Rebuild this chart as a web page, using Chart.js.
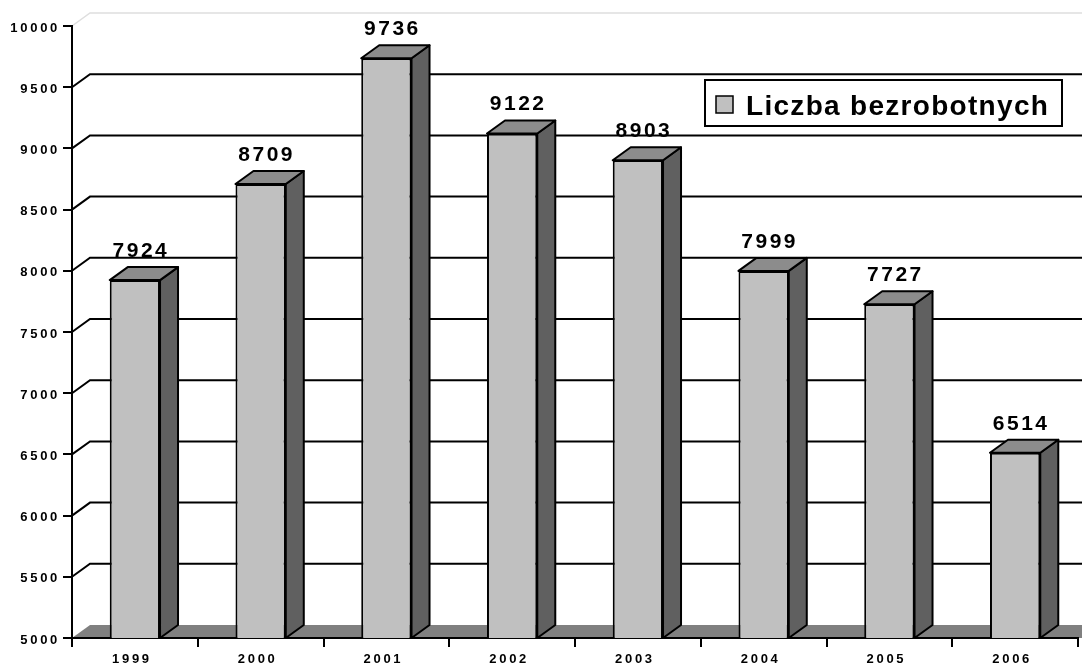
<!DOCTYPE html>
<html>
<head>
<meta charset="utf-8">
<script src="https://cdn.jsdelivr.net/npm/chart.js@4"></script>
<style>
  html, body { margin: 0; padding: 0; background: #fff; }
</style>
</head>
<body>
<canvas id="chart" width="1082" height="668"></canvas>
<script>
// dane
const categories = ['1999', '2000', '2001', '2002', '2003', '2004', '2005', '2006'];
const values = [7924, 8709, 9736, 9122, 8903, 7999, 7727, 6514];
const yTickValues = [5000, 5500, 6000, 6500, 7000, 7500, 8000, 8500, 9000, 9500, 10000];
const seriesLabel = 'Liczba bezrobotnych';

// przesunięcie "głębi" 3D
const DX = 18, DY = 13;
const FONT = 'Arial, "Liberation Sans", sans-serif';

// --- ściana tylna, podłoga i linie siatki ---
const wallPlugin = {
  id: 'wall3d',
  beforeDraw(chart) {
    const ctx = chart.ctx;
    const y = chart.scales.y;
    const area = chart.chartArea;
    const W = chart.width;
    ctx.save();
    // podłoga
    ctx.fillStyle = '#808080';
    ctx.beginPath();
    ctx.moveTo(area.left, area.bottom);
    ctx.lineTo(area.left + DX, area.bottom - DY);
    ctx.lineTo(W, area.bottom - DY);
    ctx.lineTo(W, area.bottom);
    ctx.closePath();
    ctx.fill();
    // siatka
    y.ticks.forEach(t => {
      if (t.value === y.min) return;
      const py = y.getPixelForValue(t.value);
      const isTop = t.value === y.max;
      ctx.strokeStyle = isTop ? '#dedede' : '#000';
      ctx.lineWidth = isTop ? 1.5 : 2;
      ctx.beginPath();
      ctx.moveTo(area.left, py);
      ctx.lineTo(area.left + DX, py - DY);
      ctx.lineTo(W, py - DY);
      ctx.stroke();
    });
    ctx.restore();
    // odstępy między literami dla etykiet osi
    ctx.letterSpacing = '2.7px';
  },
  afterDatasetsDraw(chart) {
    const ctx = chart.ctx;
    const meta = chart.getDatasetMeta(0);
    const bottom = chart.chartArea.bottom;
    ctx.save();
    ctx.lineWidth = 2;
    ctx.lineJoin = 'round';
    ctx.strokeStyle = '#000';
    meta.data.forEach((bar, i) => {
      const { x, y, width } = bar.getProps(['x', 'y', 'width'], true);
      const l = x - width / 2, r = x + width / 2;
      // bok
      ctx.fillStyle = '#606060';
      ctx.beginPath();
      ctx.moveTo(r, y);
      ctx.lineTo(r + DX, y - DY);
      ctx.lineTo(r + DX, bottom - DY);
      ctx.lineTo(r, bottom);
      ctx.closePath();
      ctx.fill();
      ctx.stroke();
      // góra
      ctx.fillStyle = '#8c8c8c';
      ctx.beginPath();
      ctx.moveTo(l, y);
      ctx.lineTo(l + DX, y - DY);
      ctx.lineTo(r + DX, y - DY);
      ctx.lineTo(r, y);
      ctx.closePath();
      ctx.fill();
      ctx.stroke();
      // etykieta wartości
      ctx.fillStyle = '#000';
      ctx.font = 'bold 21px ' + FONT;
      ctx.letterSpacing = '2.5px';
      ctx.textAlign = 'center';
      ctx.textBaseline = 'alphabetic';
      ctx.fillText(String(values[i]), x + 6, y - 23);
    });
    ctx.restore();
  },
  afterDraw(chart) {
    // legenda
    const ctx = chart.ctx;
    ctx.save();
    ctx.fillStyle = '#fff';
    ctx.fillRect(705, 80, 357, 46);
    ctx.strokeStyle = '#000';
    ctx.lineWidth = 2;
    ctx.strokeRect(705, 80, 357, 46);
    ctx.fillStyle = chart.data.datasets[0].backgroundColor;
    ctx.fillRect(716, 96, 17, 17);
    ctx.lineWidth = 1.5;
    ctx.strokeRect(716, 96, 17, 17);
    ctx.fillStyle = '#000';
    ctx.font = 'bold 28px ' + FONT;
    ctx.letterSpacing = '1.3px';
    ctx.textAlign = 'left';
    ctx.textBaseline = 'alphabetic';
    ctx.fillText(chart.data.datasets[0].label, 746, 115);
    ctx.restore();
  }
};

const tickFont = { family: FONT, size: 13, weight: 'bold' };

new Chart(document.getElementById('chart'), {
  type: 'bar',
  data: {
    labels: categories,
    datasets: [{
      label: seriesLabel,
      data: values,
      backgroundColor: '#c0c0c0',
      borderColor: '#000',
      borderWidth: 2,
      borderSkipped: false,
      barPercentage: 0.4,
      categoryPercentage: 1.0
    }]
  },
  options: {
    responsive: false,
    animation: false,
    layout: { padding: { top: 26, right: 4, left: 0, bottom: 0 } },
    plugins: { legend: { display: false }, tooltip: { enabled: false } },
    scales: {
      x: {
        afterFit: s => { s.height = 30; },
        grid: { drawOnChartArea: false, tickLength: 9, color: '#000', lineWidth: 2, offset: true },
        border: { display: true, color: '#000', width: 2 },
        ticks: { font: tickFont, color: '#000', padding: 5, labelOffset: -3, maxRotation: 0, autoSkip: false }
      },
      y: {
        min: yTickValues[0],
        max: yTickValues[yTickValues.length - 1],
        afterBuildTicks: s => { s.ticks = yTickValues.map(v => ({ value: v })); },
        afterFit: s => { s.width = 72; },
        grid: { drawOnChartArea: false, tickLength: 9, color: '#000', lineWidth: 2 },
        border: { display: true, color: '#000', width: 2 },
        ticks: { font: tickFont, color: '#000', padding: 3, labelOffset: 2, callback: v => String(v) }
      }
    }
  },
  plugins: [wallPlugin]
});
</script>
</body>
</html>
